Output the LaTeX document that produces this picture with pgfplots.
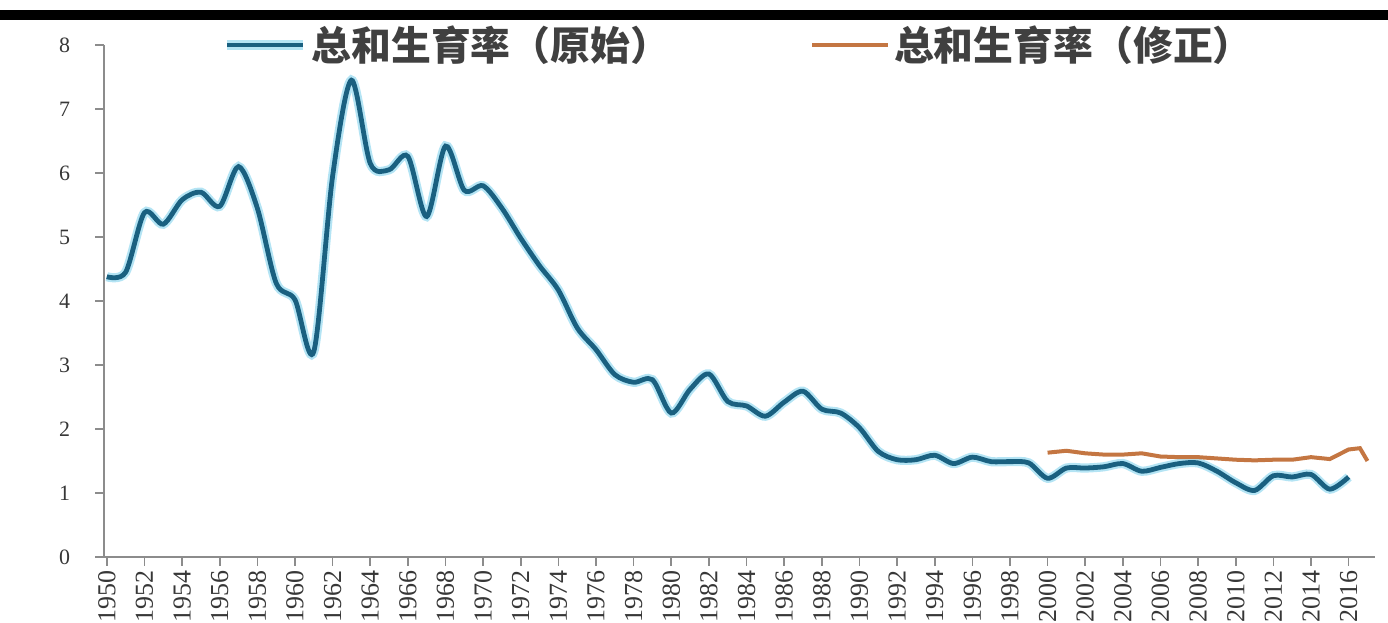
\documentclass[border=0pt]{standalone}
\usepackage{pgfplots}
\pgfplotsset{compat=1.18}
\usepackage{fontspec}
\setmainfont{Liberation Serif}
\newfontfamily\cjk{Noto Sans CJK SC}
\definecolor{tfrblue}{RGB}{26,96,128}
\definecolor{tfrglow}{RGB}{180,228,244}
\definecolor{tfrorange}{RGB}{196,118,66}
\definecolor{axgray}{RGB}{140,140,140}
\definecolor{lbl}{RGB}{55,55,55}
\begin{document}
\begin{tikzpicture}
\useasboundingbox (0bp,0bp) rectangle (694bp,311.5bp);
\fill[black] (0bp,301.5bp) rectangle (694bp,306.5bp);
\begin{axis}[
  at={(52bp,33bp)}, anchor=south west,
  scale only axis, width=635.5bp, height=256bp,
  xmin=1949.85, xmax=2017.4, ymin=0, ymax=8,
  axis x line*=bottom, axis y line*=left,
  axis line style={draw=axgray, line width=1bp},
  xtick={1950,1952,...,2016}, ytick={0,1,...,8},
  tick style={draw=axgray, line width=0.8bp},
  tick align=outside, major tick length=4.5bp,
  /pgf/number format/1000 sep={},
  /pgf/number format/assume math mode=true,
  x tick label style={rotate=90, anchor=east, font=\fontsize{13}{14}\selectfont, text=lbl, xshift=1bp},
  y tick label style={font=\fontsize{11}{12}\selectfont, text=lbl, xshift=-9bp},
  legend style={at={(0.5,1)}, anchor=center, draw=none, fill=none,
    font=\cjk\bfseries\fontsize{20}{21}\selectfont, text=black!75,
    /tikz/every even column/.append style={column sep=68bp}},
  legend columns=2,
  legend image code/.code={\draw[#1] (0bp,0bp) -- (38bp,0bp);},
]
\addplot[color=tfrblue, line width=2.4bp, smooth, preaction={draw=tfrglow, line width=4.6bp}] coordinates {
(1950,4.38) (1951,4.45) (1952,5.38) (1953,5.20) (1954,5.58) (1955,5.70)
(1956,5.48) (1957,6.10) (1958,5.45) (1959,4.28) (1960,4.02) (1961,3.21)
(1962,5.95) (1963,7.45) (1964,6.15) (1965,6.05) (1966,6.26) (1967,5.32)
(1968,6.42) (1969,5.73) (1970,5.80) (1971,5.45) (1972,4.98) (1973,4.55)
(1974,4.17) (1975,3.58) (1976,3.24) (1977,2.85) (1978,2.73) (1979,2.77)
(1980,2.25) (1981,2.62) (1982,2.86) (1983,2.43) (1984,2.36) (1985,2.20)
(1986,2.42) (1987,2.59) (1988,2.31) (1989,2.25) (1990,2.02) (1991,1.65)
(1992,1.52) (1993,1.52) (1994,1.59) (1995,1.46) (1996,1.56) (1997,1.49)
(1998,1.49) (1999,1.47) (2000,1.23) (2001,1.39) (2002,1.39) (2003,1.41)
(2004,1.46) (2005,1.34) (2006,1.40) (2007,1.46) (2008,1.47) (2009,1.34)
(2010,1.16) (2011,1.04) (2012,1.27) (2013,1.25) (2014,1.29) (2015,1.06)
(2016,1.25)
};
\addlegendentry{总和生育率（原始）}
\addplot[color=tfrorange, line width=2bp] coordinates {
(2000,1.63) (2001,1.66) (2002,1.62) (2003,1.60) (2004,1.60) (2005,1.62)
(2006,1.57) (2007,1.56) (2008,1.56) (2009,1.54) (2010,1.52) (2011,1.51)
(2012,1.52) (2013,1.52) (2014,1.56) (2015,1.53) (2016,1.68) (2016.6,1.70)
(2017,1.50)
};
\addlegendentry{总和生育率（修正）}
\end{axis}
\end{tikzpicture}
\end{document}
